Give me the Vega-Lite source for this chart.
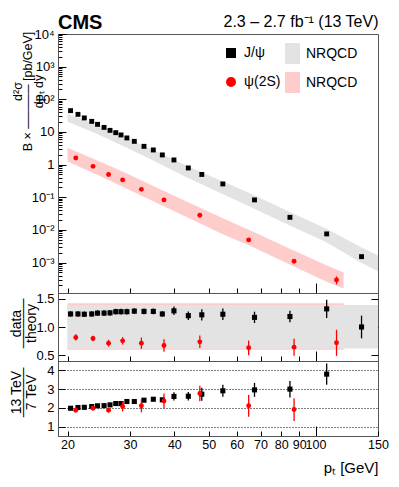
{
  "$schema": "https://vega.github.io/schema/vega-lite/v6.json",
  "background": "white",
  "padding": {"left": 8, "top": 12, "right": 4, "bottom": 4},
  "spacing": 0,
  "bounds": "flush",
  "config": {
    "font": "Liberation Sans",
    "view": {"stroke": "#555", "strokeWidth": 1},
    "axis": {"labelFont": "Liberation Sans", "labelFontSize": 13, "labelColor": "#000", "titleFont": "Liberation Sans", "titleColor": "#000", "titleFontWeight": "normal", "domainColor": "#555", "tickColor": "#000", "tickWidth": 1, "labelOverlap": false, "labelFlush": false, "grid": false, "labelPadding": 4},
    "legend": {"labelFont": "Liberation Sans", "labelFontSize": 14, "labelColor": "#000"},
    "title": {"font": "Liberation Sans", "color": "#000"}
  },
  "datasets": {
    "pts": [
      {"p": "J/ψ", "pt": 20.4, "xs": 44.9, "xse": 0, "dt": 1.23, "dte": 0.05, "r": 1.98, "re": 0.05},
      {"p": "J/ψ", "pt": 21.4, "xs": 34.6, "xse": 0, "dt": 1.23, "dte": 0.05, "r": 2.02, "re": 0.05},
      {"p": "J/ψ", "pt": 22.3, "xs": 26.9, "xse": 0, "dt": 1.225, "dte": 0.05, "r": 2.03, "re": 0.05},
      {"p": "J/ψ", "pt": 23.4, "xs": 21.1, "xse": 0, "dt": 1.23, "dte": 0.05, "r": 2.07, "re": 0.05},
      {"p": "J/ψ", "pt": 24.3, "xs": 17.1, "xse": 0, "dt": 1.245, "dte": 0.05, "r": 2.11, "re": 0.05},
      {"p": "J/ψ", "pt": 25.35, "xs": 13.8, "xse": 0, "dt": 1.245, "dte": 0.05, "r": 2.12, "re": 0.05},
      {"p": "J/ψ", "pt": 26.35, "xs": 11.2, "xse": 0, "dt": 1.25, "dte": 0.05, "r": 2.16, "re": 0.06},
      {"p": "J/ψ", "pt": 27.35, "xs": 9.52, "xse": 0, "dt": 1.27, "dte": 0.05, "r": 2.23, "re": 0.06},
      {"p": "J/ψ", "pt": 28.3, "xs": 8.1, "xse": 0, "dt": 1.27, "dte": 0.05, "r": 2.23, "re": 0.06},
      {"p": "J/ψ", "pt": 29.4, "xs": 6.56, "xse": 0, "dt": 1.27, "dte": 0.05, "r": 2.34, "re": 0.07},
      {"p": "J/ψ", "pt": 30.85, "xs": 5.16, "xse": 0, "dt": 1.28, "dte": 0.05, "r": 2.34, "re": 0.07},
      {"p": "J/ψ", "pt": 32.85, "xs": 3.63, "xse": 0, "dt": 1.275, "dte": 0.05, "r": 2.41, "re": 0.08},
      {"p": "J/ψ", "pt": 34.9, "xs": 2.81, "xse": 0, "dt": 1.275, "dte": 0.05, "r": 2.46, "re": 0.1},
      {"p": "J/ψ", "pt": 37.0, "xs": 1.98, "xse": 0, "dt": 1.23, "dte": 0.05, "r": 2.43, "re": 0.1},
      {"p": "J/ψ", "pt": 39.9, "xs": 1.39, "xse": 0, "dt": 1.285, "dte": 0.075, "r": 2.61, "re": 0.22},
      {"p": "J/ψ", "pt": 43.8, "xs": 0.79, "xse": 0, "dt": 1.2, "dte": 0.075, "r": 2.62, "re": 0.23},
      {"p": "J/ψ", "pt": 47.8, "xs": 0.5, "xse": 0, "dt": 1.215, "dte": 0.1, "r": 2.73, "re": 0.35},
      {"p": "J/ψ", "pt": 54.8, "xs": 0.256, "xse": 0, "dt": 1.225, "dte": 0.1, "r": 2.91, "re": 0.32},
      {"p": "J/ψ", "pt": 67.3, "xs": 0.083, "xse": 0, "dt": 1.17, "dte": 0.1, "r": 2.96, "re": 0.37},
      {"p": "J/ψ", "pt": 84.7, "xs": 0.0243, "xse": 0, "dt": 1.185, "dte": 0.1, "r": 3.0, "re": 0.44},
      {"p": "J/ψ", "pt": 107.5, "xs": 0.00755, "xse": 0, "dt": 1.32, "dte": 0.16, "r": 3.8, "re": 0.57},
      {"p": "J/ψ", "pt": 134.8, "xs": 0.00152, "xse": 0.00015, "dt": 1.0, "dte": 0.2, "r": null, "re": null},
      {"p": "ψ(2S)", "pt": 21.1, "xs": 1.6, "xse": 0, "dt": 0.815, "dte": 0.055, "r": 1.87, "re": 0.08},
      {"p": "ψ(2S)", "pt": 23.6, "xs": 0.885, "xse": 0, "dt": 0.797, "dte": 0.05, "r": 1.98, "re": 0.1},
      {"p": "ψ(2S)", "pt": 26.1, "xs": 0.5, "xse": 0, "dt": 0.715, "dte": 0.06, "r": 1.87, "re": 0.1},
      {"p": "ψ(2S)", "pt": 28.6, "xs": 0.34, "xse": 0, "dt": 0.756, "dte": 0.065, "r": 2.07, "re": 0.26},
      {"p": "ψ(2S)", "pt": 32.3, "xs": 0.175, "xse": 0, "dt": 0.715, "dte": 0.1, "r": 2.11, "re": 0.35},
      {"p": "ψ(2S)", "pt": 37.4, "xs": 0.083, "xse": 0, "dt": 0.674, "dte": 0.11, "r": 2.37, "re": 0.4},
      {"p": "ψ(2S)", "pt": 47.2, "xs": 0.028, "xse": 0, "dt": 0.738, "dte": 0.11, "r": 2.77, "re": 0.41},
      {"p": "ψ(2S)", "pt": 64.8, "xs": 0.00495, "xse": 0.0003, "dt": 0.633, "dte": 0.13, "r": 2.11, "re": 0.58},
      {"p": "ψ(2S)", "pt": 87.0, "xs": 0.0011, "xse": 0.00012, "dt": 0.644, "dte": 0.15, "r": 1.91, "re": 0.61},
      {"p": "ψ(2S)", "pt": 114.6, "xs": 0.000295, "xse": 0.00008, "dt": 0.721, "dte": 0.23, "r": null, "re": null}
    ],
    "bandtop": [
      {"band": "NRQCD J/ψ", "pt": 20, "lo": 20.7, "hi": 36.3},
      {"band": "NRQCD J/ψ", "pt": 24, "lo": 9.2, "hi": 17.3},
      {"band": "NRQCD J/ψ", "pt": 29, "lo": 3.55, "hi": 6.93},
      {"band": "NRQCD J/ψ", "pt": 35, "lo": 1.32, "hi": 2.77},
      {"band": "NRQCD J/ψ", "pt": 43, "lo": 0.428, "hi": 0.964},
      {"band": "NRQCD J/ψ", "pt": 55, "lo": 0.1205, "hi": 0.301},
      {"band": "NRQCD J/ψ", "pt": 67, "lo": 0.045, "hi": 0.1164},
      {"band": "NRQCD J/ψ", "pt": 84, "lo": 0.01404, "hi": 0.0364},
      {"band": "NRQCD J/ψ", "pt": 107, "lo": 0.00424, "hi": 0.01096},
      {"band": "NRQCD J/ψ", "pt": 134, "lo": 0.001, "hi": 0.00298},
      {"band": "NRQCD J/ψ", "pt": 150, "lo": 0.00054, "hi": 0.00164},
      {"band": "NRQCD ψ(2S)", "pt": 20, "lo": 1.246, "hi": 3.31},
      {"band": "NRQCD ψ(2S)", "pt": 24, "lo": 0.512, "hi": 1.419},
      {"band": "NRQCD ψ(2S)", "pt": 29, "lo": 0.197, "hi": 0.569},
      {"band": "NRQCD ψ(2S)", "pt": 35, "lo": 0.0736, "hi": 0.2193},
      {"band": "NRQCD ψ(2S)", "pt": 43, "lo": 0.0256, "hi": 0.0762},
      {"band": "NRQCD ψ(2S)", "pt": 55, "lo": 0.0072, "hi": 0.0222},
      {"band": "NRQCD ψ(2S)", "pt": 67, "lo": 0.00288, "hi": 0.00857},
      {"band": "NRQCD ψ(2S)", "pt": 84, "lo": 0.0009, "hi": 0.00277},
      {"band": "NRQCD ψ(2S)", "pt": 107, "lo": 0.000262, "hi": 0.000837},
      {"band": "NRQCD ψ(2S)", "pt": 120, "lo": 0.00016, "hi": 0.000494}
    ],
    "bandmid": [
      {"band": "pink", "pt": 20, "lo": 0.6, "hi": 1.42},
      {"band": "pink", "pt": 120, "lo": 0.6, "hi": 1.42},
      {"band": "gray", "pt": 20, "lo": 0.62, "hi": 1.39},
      {"band": "gray", "pt": 150, "lo": 0.62, "hi": 1.39}
    ]
  },
  "vconcat": [
    {
      "width": 320,
      "height": 259,
      "title": {"text": "CMS", "anchor": "start", "frame": "group", "fontSize": 20, "fontWeight": "bold", "font": "Liberation Sans", "offset": -20},
      "resolve": {"axis": {"x": "independent", "y": "independent"}},
      "layer": [
        {
          "data": {"name": "bandtop"},
          "mark": {"type": "area", "opacity": 1},
          "encoding": {
            "x": {"field": "pt", "type": "quantitative", "scale": {"type": "log", "domain": [18.8, 150], "nice": false},
              "axis": {"title": null, "labels": false, "values": [20, 30, 40, 50, 60, 70, 80, 90, 100],
                "tickSize": {"condition": {"test": "datum.value == 100", "value": -10}, "value": -5}}},
            "y": {"field": "hi", "type": "quantitative", "scale": {"type": "log", "domain": [0.000117, 10000], "nice": false},
              "axis": {
                "title": ["d²σ\u00a0\u00a0\u00a0\u00a0\u00a0\u00a0\u00a0\u00a0\u00a0", "B × ───── [pb/GeV]", "dpₜ dy\u00a0\u00a0\u00a0\u00a0\u00a0\u00a0\u00a0\u00a0\u00a0"],
                "titleFontSize": 12.5, "titleLineHeight": 10.5, "titleAngle": -90, "titleAlign": "center", "titleBaseline": "bottom",
                "titleX": -34, "titleY": 57,
                "labelPadding": 12,
                "values": [0.0002, 0.0003, 0.0004, 0.0005, 0.0006, 0.0007, 0.0008, 0.0009, 0.001, 0.002, 0.003, 0.004, 0.005, 0.006, 0.007, 0.008, 0.009, 0.01, 0.02, 0.03, 0.04, 0.05, 0.06, 0.07, 0.08, 0.09, 0.1, 0.2, 0.3, 0.4, 0.5, 0.6, 0.7, 0.8, 0.9, 1, 2, 3, 4, 5, 6, 7, 8, 9, 10, 20, 30, 40, 50, 60, 70, 80, 90, 100, 200, 300, 400, 500, 600, 700, 800, 900, 1000, 2000, 3000, 4000, 5000, 6000, 7000, 8000, 9000, 10000],
                "labelExpr": "datum.value==10000?'10⁴':datum.value==1000?'10³':datum.value==100?'10²':datum.value==10?'10':datum.value==1?'1':datum.value==0.1?'10⁻¹':datum.value==0.01?'10⁻²':datum.value==0.001?'10⁻³':''",
                "tickSize": {"condition": {"test": "indexof([0.001,0.01,0.1,1,10,100,1000,10000], datum.value) >= 0", "value": -8}, "value": -4}
              }},
            "y2": {"field": "lo"},
            "fill": {"field": "band", "type": "nominal", "scale": {"domain": ["NRQCD J/ψ", "NRQCD ψ(2S)"], "range": ["#e3e3e3", "#ffcccc"]},
              "legend": {"orient": "none", "legendX": 224, "legendY": 9, "title": null, "padding": 0, "symbolType": "M-0.714,-1H0.714V1H-0.714Z", "symbolSize": 441, "symbolStrokeWidth": 0, "labelExpr": "'NRQCD'", "rowPadding": 8, "labelOffset": 3, "labelFontSize": 14}}
          }
        },
        {
          "data": {"name": "pts"},
          "transform": [{"filter": "datum.p == 'J/ψ' && datum.xse > 0"}],
          "mark": {"type": "errorbar", "thickness": 1.3, "color": "black"},
          "encoding": {
            "x": {"field": "pt", "type": "quantitative", "axis": null},
            "y": {"field": "xs", "type": "quantitative", "axis": null},
            "yError": {"field": "xse"}
          }
        },
        {
          "data": {"name": "pts"},
          "transform": [{"filter": "datum.p == 'ψ(2S)' && datum.xse > 0"}],
          "mark": {"type": "errorbar", "thickness": 1.3, "color": "red"},
          "encoding": {
            "x": {"field": "pt", "type": "quantitative", "axis": null},
            "y": {"field": "xs", "type": "quantitative", "axis": null},
            "yError": {"field": "xse"}
          }
        },
        {
          "data": {"name": "pts"},
          "mark": {"type": "point", "filled": true, "size": 24, "opacity": 1},
          "encoding": {
            "x": {"field": "pt", "type": "quantitative",
              "axis": {"orient": "top", "title": "2.3 – 2.7 fb⁻¹ (13 TeV)", "titleAnchor": "end", "titleFontSize": 16, "titlePadding": 5, "labels": false, "ticks": false, "domain": false}},
            "y": {"field": "xs", "type": "quantitative", "axis": null},
            "color": {"field": "p", "type": "nominal", "scale": {"domain": ["J/ψ", "ψ(2S)"], "range": ["black", "red"]},
              "legend": {"orient": "none", "legendX": 166, "legendY": 12, "title": null, "padding": 0, "rowPadding": 15, "labelOffset": 6, "labelFontSize": 14}},
            "shape": {"field": "p", "type": "nominal", "scale": {"domain": ["J/ψ", "ψ(2S)"], "range": ["square", "circle"]},
              "legend": {"orient": "none", "legendX": 166, "legendY": 12, "title": null, "padding": 0, "rowPadding": 15, "labelOffset": 6, "labelFontSize": 14}}
          }
        }
      ]
    },
    {
      "width": 320,
      "height": 68,
      "resolve": {"axis": {"x": "independent", "y": "independent"}},
      "layer": [
        {
          "data": {"name": "bandmid"},
          "transform": [{"filter": "datum.band == 'pink'"}],
          "mark": {"type": "area", "color": "#ffcccc", "opacity": 1},
          "encoding": {
            "x": {"field": "pt", "type": "quantitative", "scale": {"type": "log", "domain": [18.8, 150], "nice": false},
              "axis": {"title": null, "labels": false, "values": [20, 30, 40, 50, 60, 70, 80, 90, 100],
                "tickSize": {"condition": {"test": "datum.value == 100", "value": -10}, "value": -5}}},
            "y": {"field": "hi", "type": "quantitative", "scale": {"domain": [0.4, 1.6], "nice": false, "zero": false},
              "axis": {"title": ["data", "─────", "theory"], "titleFontSize": 14, "titleLineHeight": 7.5, "titleAngle": -90, "titleAlign": "center", "titleBaseline": "bottom", "titleX": -35, "titleY": 30,
                "values": [0.5, 1, 1.5], "tickSize": -7, "labelPadding": 11}},
            "y2": {"field": "lo"}
          }
        },
        {
          "data": {"name": "bandmid"},
          "transform": [{"filter": "datum.band == 'gray'"}],
          "mark": {"type": "area", "color": "#e3e3e3", "opacity": 1},
          "encoding": {
            "x": {"field": "pt", "type": "quantitative", "axis": null},
            "y": {"field": "hi", "type": "quantitative",
              "axis": {"orient": "right", "title": null, "labels": false, "domain": false, "values": [0.5, 1, 1.5], "tickSize": -7}},
            "y2": {"field": "lo"}
          }
        },
        {
          "mark": {"type": "rule", "color": "#333", "strokeDash": [5, 4], "strokeWidth": 1},
          "encoding": {"y": {"datum": 1, "axis": null}}
        },
        {
          "data": {"name": "pts"},
          "transform": [{"filter": "datum.p == 'J/ψ'"}],
          "mark": {"type": "errorbar", "thickness": 1.3, "color": "black"},
          "encoding": {
            "x": {"field": "pt", "type": "quantitative", "axis": null},
            "y": {"field": "dt", "type": "quantitative", "axis": null},
            "yError": {"field": "dte"}
          }
        },
        {
          "data": {"name": "pts"},
          "transform": [{"filter": "datum.p == 'J/ψ'"}],
          "mark": {"type": "point", "filled": true, "shape": "square", "size": 26, "color": "black", "opacity": 1},
          "encoding": {
            "x": {"field": "pt", "type": "quantitative", "axis": null},
            "y": {"field": "dt", "type": "quantitative", "axis": null}
          }
        },
        {
          "data": {"name": "pts"},
          "transform": [{"filter": "datum.p == 'ψ(2S)'"}],
          "mark": {"type": "errorbar", "thickness": 1.3, "color": "red"},
          "encoding": {
            "x": {"field": "pt", "type": "quantitative", "axis": null},
            "y": {"field": "dt", "type": "quantitative", "axis": null},
            "yError": {"field": "dte"}
          }
        },
        {
          "data": {"name": "pts"},
          "transform": [{"filter": "datum.p == 'ψ(2S)'"}],
          "mark": {"type": "point", "filled": true, "shape": "circle", "size": 24, "color": "red", "opacity": 1},
          "encoding": {
            "x": {"field": "pt", "type": "quantitative", "axis": null},
            "y": {"field": "dt", "type": "quantitative", "axis": null}
          }
        }
      ]
    },
    {
      "width": 320,
      "height": 75,
      "resolve": {"axis": {"x": "independent", "y": "independent"}},
      "layer": [
        {
          "data": {"name": "pts"},
          "transform": [{"filter": "datum.p == 'J/ψ' && datum.r != null"}],
          "mark": {"type": "errorbar", "thickness": 1.3, "color": "black"},
          "encoding": {
            "x": {"field": "pt", "type": "quantitative", "scale": {"type": "log", "domain": [18.8, 150], "nice": false},
              "axis": {"title": "pₜ [GeV]", "titleFontSize": 15, "titleAnchor": "end", "titlePadding": 10,
                "values": [20, 30, 40, 50, 60, 70, 80, 90, 100, 150], "labelFontSize": 12.5,
                "labelPadding": {"condition": {"test": "datum.value == 100", "value": 12}, "value": 7},
                "tickSize": {"condition": {"test": "datum.value == 100", "value": -10}, "value": -5}}},
            "y": {"field": "r", "type": "quantitative", "scale": {"domain": [0.5, 4.5], "nice": false, "zero": false},
              "axis": {"title": ["13 TeV", "─────", "7 TeV"], "titleFontSize": 14, "titleLineHeight": 7.5, "titleAngle": -90, "titleAlign": "center", "titleBaseline": "bottom", "titleX": -35, "titleY": 31,
                "values": [1, 2, 3, 4], "tickSize": -7, "labelPadding": 11, "grid": true, "gridDash": [1, 2], "gridColor": "#000", "gridWidth": 1}},
            "yError": {"field": "re"}
          }
        },
        {
          "data": {"name": "pts"},
          "transform": [{"filter": "datum.p == 'J/ψ' && datum.r != null"}],
          "mark": {"type": "point", "filled": true, "shape": "square", "size": 26, "color": "black", "opacity": 1},
          "encoding": {
            "x": {"field": "pt", "type": "quantitative", "axis": null},
            "y": {"field": "r", "type": "quantitative", "axis": null}
          }
        },
        {
          "data": {"name": "pts"},
          "transform": [{"filter": "datum.p == 'ψ(2S)' && datum.r != null"}],
          "mark": {"type": "errorbar", "thickness": 1.3, "color": "red"},
          "encoding": {
            "x": {"field": "pt", "type": "quantitative", "axis": null},
            "y": {"field": "r", "type": "quantitative", "axis": null},
            "yError": {"field": "re"}
          }
        },
        {
          "data": {"name": "pts"},
          "transform": [{"filter": "datum.p == 'ψ(2S)' && datum.r != null"}],
          "mark": {"type": "point", "filled": true, "shape": "circle", "size": 24, "color": "red", "opacity": 1},
          "encoding": {
            "x": {"field": "pt", "type": "quantitative", "axis": null},
            "y": {"field": "r", "type": "quantitative", "axis": null}
          }
        }
      ]
    }
  ]
}
